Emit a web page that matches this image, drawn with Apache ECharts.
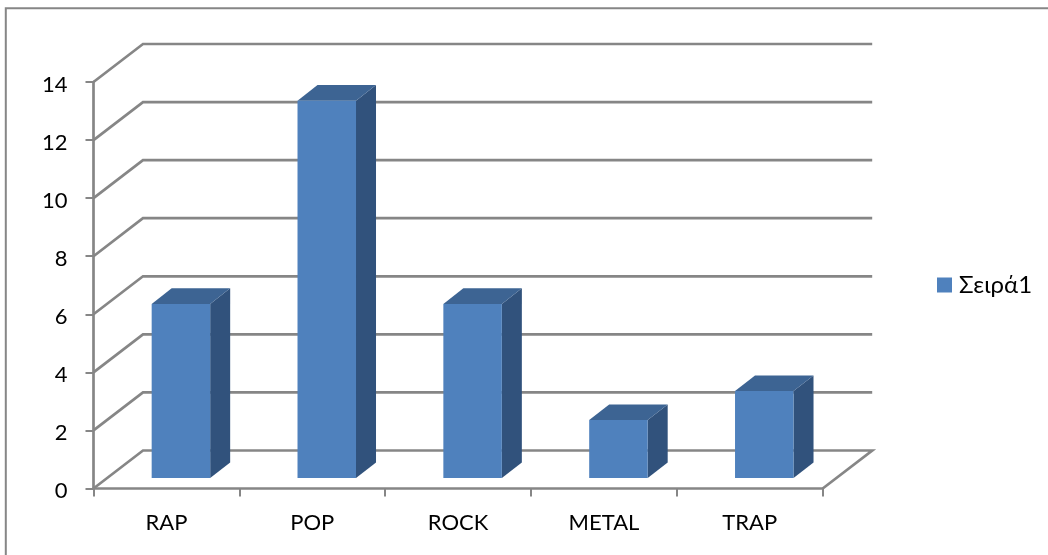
<!DOCTYPE html>
<html><head><meta charset="utf-8">
<style>html,body{margin:0;padding:0;background:#fff}#c{width:1048px;height:555px}</style>
<script src="https://cdn.jsdelivr.net/npm/echarts@6/dist/echarts.min.js"></script>
</head><body><div id="c"></div>
<script>
var categories = ['RAP','POP','ROCK','METAL','TRAP'];
var values = [6,13,6,2,3];
var valueTicks = [0,2,4,6,8,10,12,14];
var seriesName = 'Σειρά1';

var FONT = 'Lato, "Noto Sans", sans-serif';
var LINE = '#868686';
var WALL = [49.5,-38];
var DEPTH = [20,-15.6];
var BAR_SHIFT = [14.5,-10.4];
var BAR_W = 58.5;

var chart = echarts.init(document.getElementById('c'), null, {renderer:'canvas'});
chart.setOption({
  animation:false,
  backgroundColor:'#fff',
  graphic:[{type:'polyline',z:0,shape:{points:[[5.8,555],[5.8,8.2],[1048,8.2]]},style:{fill:null,stroke:LINE,lineWidth:2}}],
  grid:{left:93.5,right:225.3,top:82,bottom:66.5},
  legend:{show:true,left:937,top:273,padding:0,orient:'vertical',icon:'rect',itemWidth:15,itemHeight:15,itemGap:0,
    data:[seriesName],textStyle:{fontFamily:FONT,fontSize:24,color:'#000',padding:[2,0,0,2]}},
  xAxis:{type:'category',data:categories,
    axisLine:{show:true,lineStyle:{color:LINE,width:2.7}},
    axisTick:{show:true,length:8,alignWithLabel:false,lineStyle:{color:LINE,width:2}},
    axisLabel:{fontFamily:FONT,fontSize:22,color:'#000',margin:23},
    splitLine:{show:false},z:5},
  yAxis:{type:'value',min:0,max:14,interval:2,
    axisLine:{show:true,lineStyle:{color:LINE,width:2.7}},
    axisTick:{show:true,length:8,lineStyle:{color:LINE,width:2}},
    axisLabel:{fontFamily:FONT,fontSize:22,color:'#000',margin:26,verticalAlign:'top',lineHeight:5,formatter:function(v){return valueTicks.indexOf(v)>=0?String(v):'';}},
    splitLine:{show:false},z:5},
  series:[
    {type:'custom',name:'walls',silent:true,z:1,legendHoverLink:false,
     data:valueTicks.map(function(v){return [0,v];}),
     encode:{x:0,y:1},
     renderItem:function(params,api){
       var cs=params.coordSys, y=api.coord([0,api.value(1)])[1], x0=cs.x, x1=cs.x+cs.width;
       var bx=x0+WALL[0], by=y+WALL[1], ex=x1+WALL[0];
       var pts=[[x0,y],[bx,by],[ex,by]];
       if(api.value(1)===valueTicks[0]) pts.push([x1,y]);
       return {type:'polyline',shape:{points:pts},style:{fill:null,stroke:LINE,lineWidth:2.7,lineJoin:'miter'}};
     }},
    {type:'custom',name:seriesName,z:3,
     itemStyle:{color:'#4F81BD'},
     data:values.map(function(v,i){return [i,v];}),
     encode:{x:0,y:1},
     renderItem:function(params,api){
       var c=api.coord([api.value(0),api.value(1)]), b=api.coord([api.value(0),0]);
       var l=c[0]+BAR_SHIFT[0]-BAR_W/2, r=l+BAR_W, t=c[1]+BAR_SHIFT[1], bt=b[1]+BAR_SHIFT[1];
       var dx=DEPTH[0], dy=DEPTH[1];
       return {type:'group',children:[
         {type:'polygon',shape:{points:[[r,t],[r+dx,t+dy],[r+dx,bt+dy],[r,bt]]},style:{fill:'#31527C'}},
         {type:'polygon',shape:{points:[[l,t],[l+dx,t+dy],[r+dx,t+dy],[r,t]]},style:{fill:'#3D6493'}},
         {type:'rect',shape:{x:l,y:t,width:r-l,height:bt-t},style:{fill:'#4F81BD'}}
       ]};
     }}
  ]
});
</script></body></html>
